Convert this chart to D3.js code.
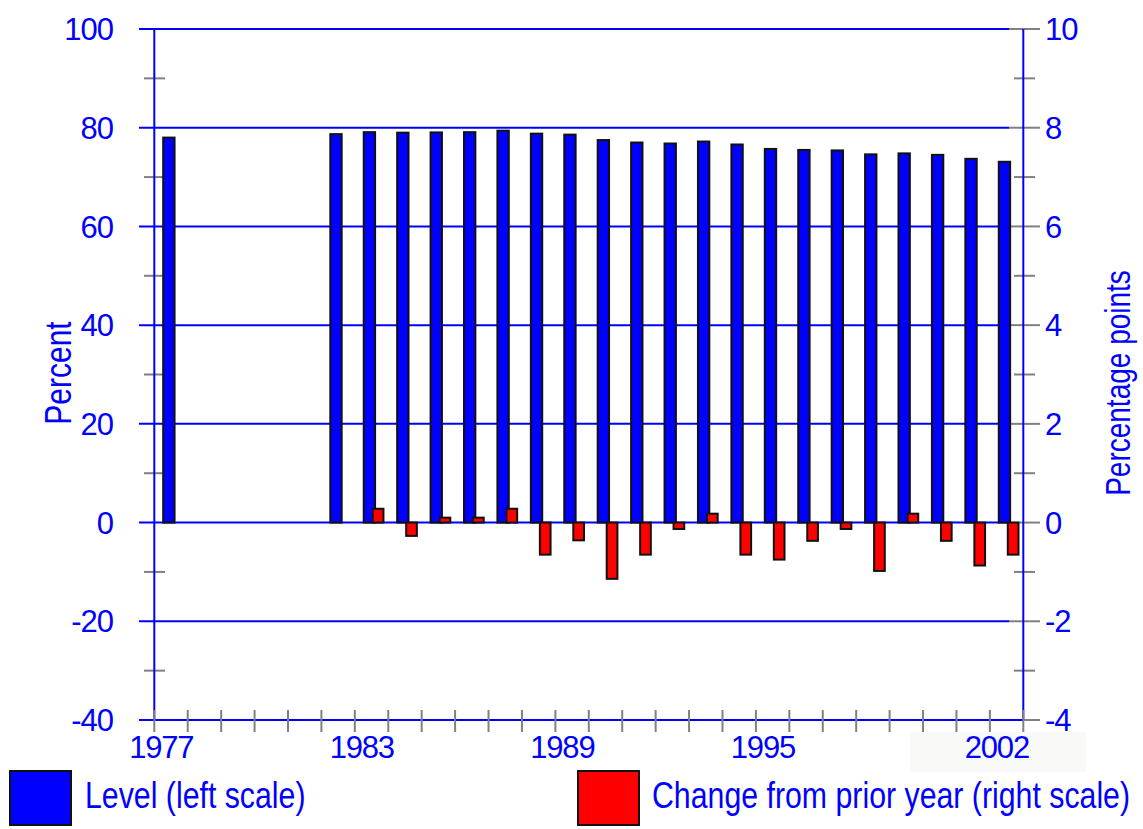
<!DOCTYPE html>
<html>
<head>
  <meta charset="utf-8">
  <title>Level and change from prior year</title>
  <style>
    body { margin: 0; background: #fff; }
    text { font-family: "Liberation Sans", Arial, sans-serif; fill: #0000ff; }
  </style>
</head>
<body>
  <div id="graph"></div>
  <script src="https://cdn.jsdelivr.net/npm/d3@7"></script>
  <script>
    // data
    const years = ["1977", "1978", "1979", "1980", "1981", "1982", "1983", "1984", "1985",
      "1986", "1987", "1988", "1989", "1990", "1991", "1992", "1993", "1994", "1995",
      "1996", "1997", "1998", "1999", "2000", "2001", "2002"];
    // level, percent (left scale)
    const level = [78.0, null, null, null, null, 78.7, 79.1, 79.0, 79.05, 79.1, 79.4, 78.8,
      78.6, 77.5, 77.0, 76.8, 77.2, 76.6, 75.7, 75.5, 75.4, 74.6, 74.8, 74.5, 73.7, 73.1];
    // change from prior year, percentage points (right scale)
    const change = [null, null, null, null, null, null, 0.28, -0.27, 0.1, 0.1, 0.28, -0.65,
      -0.36, -1.14, -0.65, -0.13, 0.18, -0.65, -0.75, -0.37, -0.13, -0.98, 0.18, -0.37, -0.87, -0.65];
    const xLabels = ["1977", "1983", "1989", "1995", "2002"];
    const leftTicks = [-40, -20, 0, 20, 40, 60, 80, 100];
    const rightTicks = [-4, -2, 0, 2, 4, 6, 8, 10];

    const width = 1143, height = 829;
    const blue = "#0000ff", red = "#ff0000", grey = "#808080";

    const svg = d3.select("#graph").append("svg")
      .attr("width", width)
      .attr("height", height);

    const x = d3.scaleBand().domain(years).range([154.3, 1023.3]).padding(0);
    const bw = x.bandwidth();
    const yL = d3.scaleLinear().domain([-40, 100]).range([720, 29]);
    const yR = d3.scaleLinear().domain([-4, 10]).range([720, 29]);

    const x0 = 154.3, x1 = 1023.3;

    // faint box behind last year label
    svg.append("rect")
      .attr("x", 910).attr("y", 732).attr("width", 176).attr("height", 40)
      .attr("fill", "#f9f9f7");

    // grid lines
    svg.append("g").selectAll("line")
      .data(leftTicks.filter(d => d > -40))
      .enter().append("line")
      .attr("x1", 139).attr("x2", 1009)
      .attr("y1", d => yL(d)).attr("y2", d => yL(d))
      .attr("stroke", blue).attr("stroke-width", 2);

    // minor ticks left
    const minors = d3.range(-30, 100, 20);
    svg.append("g").selectAll("line")
      .data(minors).enter().append("line")
      .attr("x1", 144).attr("x2", 165)
      .attr("y1", d => yL(d)).attr("y2", d => yL(d))
      .attr("stroke", grey).attr("stroke-width", 2);

    // right ticks
    svg.append("g").selectAll("line")
      .data(rightTicks).enter().append("line")
      .attr("x1", 1009).attr("x2", 1040)
      .attr("y1", d => yR(d)).attr("y2", d => yR(d))
      .attr("stroke", grey).attr("stroke-width", 2);
    svg.append("g").selectAll("line")
      .data(d3.range(-3, 10, 2)).enter().append("line")
      .attr("x1", 1014).attr("x2", 1035)
      .attr("y1", d => yR(d)).attr("y2", d => yR(d))
      .attr("stroke", grey).attr("stroke-width", 2);

    // bottom axis line
    svg.append("line")
      .attr("x1", 139).attr("x2", x1)
      .attr("y1", yL(-40)).attr("y2", yL(-40))
      .attr("stroke", blue).attr("stroke-width", 2);

    // vertical axis lines
    svg.append("line")
      .attr("x1", x0).attr("x2", x0).attr("y1", 29).attr("y2", 720)
      .attr("stroke", blue).attr("stroke-width", 2);
    svg.append("line")
      .attr("x1", x1).attr("x2", x1).attr("y1", 29).attr("y2", 720)
      .attr("stroke", blue).attr("stroke-width", 2);

    // year ticks
    const boundaries = years.map(d => x(d)).concat([x1]);
    svg.append("g").selectAll("line")
      .data(boundaries).enter().append("line")
      .attr("x1", d => d).attr("x2", d => d)
      .attr("y1", 710).attr("y2", 732)
      .attr("stroke", grey).attr("stroke-width", 2);

    // level bars
    svg.append("g").selectAll("rect")
      .data(years.map((d, i) => ({ year: d, v: level[i] })).filter(d => d.v !== null))
      .enter().append("rect")
      .attr("x", d => x(d.year) + bw * 0.266)
      .attr("width", bw * 0.34)
      .attr("y", d => yL(d.v))
      .attr("height", d => yL(0) - yL(d.v))
      .attr("fill", blue)
      .attr("stroke", "#111").attr("stroke-width", 2);

    // change bars
    svg.append("g").selectAll("rect")
      .data(years.map((d, i) => ({ year: d, v: change[i] })).filter(d => d.v !== null))
      .enter().append("rect")
      .attr("x", d => x(d.year) + bw * 0.536)
      .attr("width", bw * 0.32)
      .attr("y", d => yR(Math.max(0, d.v)))
      .attr("height", d => Math.abs(yR(d.v) - yR(0)))
      .attr("fill", red)
      .attr("stroke", "#111").attr("stroke-width", 2);

    // tick labels
    svg.append("g").selectAll("text")
      .data(leftTicks).enter().append("text")
      .attr("x", 113).attr("y", d => yL(d))
      .attr("dy", "0.36em")
      .attr("text-anchor", "end")
      .attr("font-size", 31)
      .attr("letter-spacing", -1)
      .text(d => d);

    svg.append("g").selectAll("text")
      .data(rightTicks).enter().append("text")
      .attr("x", 1045).attr("y", d => yR(d))
      .attr("dy", "0.36em")
      .attr("font-size", 31)
      .attr("letter-spacing", -1)
      .text(d => d);

    svg.append("g").selectAll("text")
      .data(xLabels).enter().append("text")
      .attr("x", d => x(d) + 7)
      .attr("y", 758)
      .attr("text-anchor", "middle")
      .attr("font-size", 31)
      .attr("letter-spacing", -1.2)
      .text(d => d);

    // axis titles
    svg.append("text")
      .attr("transform", "translate(71,373) rotate(-90) scale(1,1.2)")
      .attr("text-anchor", "middle")
      .attr("font-size", 30)
      .text("Percent");

    svg.append("text")
      .attr("transform", "translate(1130,383) rotate(-90) scale(1,1.25)")
      .attr("text-anchor", "middle")
      .attr("font-size", 28)
      .text("Percentage points");

    // legend
    const legend = [
      { label: "Level (left scale)", color: blue, bx: 10, tx: 85 },
      { label: "Change from prior year (right scale)", color: red, bx: 578, tx: 652 }
    ];
    const lg = svg.append("g").selectAll("g").data(legend).enter().append("g");
    lg.append("rect")
      .attr("x", d => d.bx).attr("y", 771)
      .attr("width", 61).attr("height", 54)
      .attr("fill", d => d.color)
      .attr("stroke", "#111").attr("stroke-width", 2);
    lg.append("text")
      .attr("transform", d => `translate(${d.tx},808) scale(1,1.2)`)
      .attr("font-size", 30.3)
      .text(d => d.label);
  </script>
</body>
</html>
